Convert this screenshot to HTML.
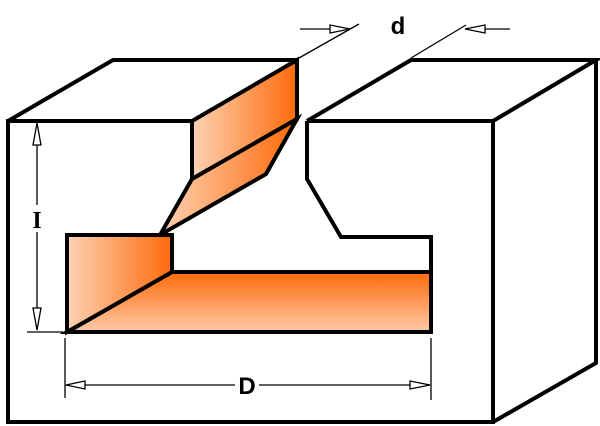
<!DOCTYPE html>
<html><head><meta charset="utf-8"><style>html,body{margin:0;padding:0;background:#fff}svg{display:block}</style></head>
<body>
<svg width="600" height="426" viewBox="0 0 600 426" xmlns="http://www.w3.org/2000/svg">
<defs>
<linearGradient id="gh" x1="0" y1="0" x2="1" y2="0"><stop offset="0" stop-color="#fdd2b4"/><stop offset="1" stop-color="#ff6a0a"/></linearGradient>
<linearGradient id="gv" x1="0" y1="0" x2="0" y2="1"><stop offset="0" stop-color="#ff6a0a"/><stop offset="1" stop-color="#fdc9a8"/></linearGradient>
</defs>
<g fill="none" stroke="#000" stroke-width="4" stroke-linejoin="miter">
<polyline points="192,121 8,121 8,422 493,422 493,121 307,121"/>
<polyline points="8,121 113,60 297,60"/>
<polyline points="307,121 411,60 596,60 493,121"/>
<polyline points="596,60 596,363 493,422"/>
<polygon points="192,121 297,60 297,119 192,179" fill="url(#gh)"/>
<polygon points="192,179 297,119 266,174 160,235" fill="url(#gh)"/>
<polyline points="307,121 307,179 341,237 431,237 431,272"/>
<polygon points="172,272 431,272 431,332 67,332" fill="url(#gv)"/>
<polygon points="67,235 172,235 172,272 67,332" fill="url(#gh)"/>
</g>
<g stroke="#000" stroke-width="1.3" fill="#fff">
<line x1="37" y1="123" x2="37" y2="205"/>
<line x1="37" y1="232" x2="37" y2="330"/>
<polygon points="37,123 33,145 41,145"/>
<polygon points="37,330 33,308 41,308"/>
<line x1="27" y1="332" x2="63" y2="332"/>
<line x1="65" y1="338" x2="65" y2="398"/>
<line x1="431" y1="338" x2="431" y2="400"/>
<line x1="66" y1="385" x2="235" y2="385"/>
<line x1="259" y1="385" x2="430" y2="385"/>
<polygon points="66,385 85,381 85,389"/>
<polygon points="430,385 410,381 410,389"/>
<line x1="299" y1="58" x2="359" y2="24"/>
<line x1="411" y1="58" x2="466" y2="25"/>
<line x1="300" y1="29" x2="349" y2="29"/>
<polygon points="350,29 330,25 330,33"/>
<line x1="466" y1="29" x2="510" y2="29"/>
<polygon points="465,29 485,25 485,33"/>
</g>
<g font-family="Liberation Sans, sans-serif" font-weight="bold" fill="#000">
<text x="398" y="34" font-size="24" text-anchor="middle">d</text>
<text x="247" y="394" font-size="24" text-anchor="middle">D</text>
<text x="37" y="228" font-size="24" text-anchor="middle" font-family="Liberation Serif, serif">I</text>
</g>
</svg>
</body></html>
